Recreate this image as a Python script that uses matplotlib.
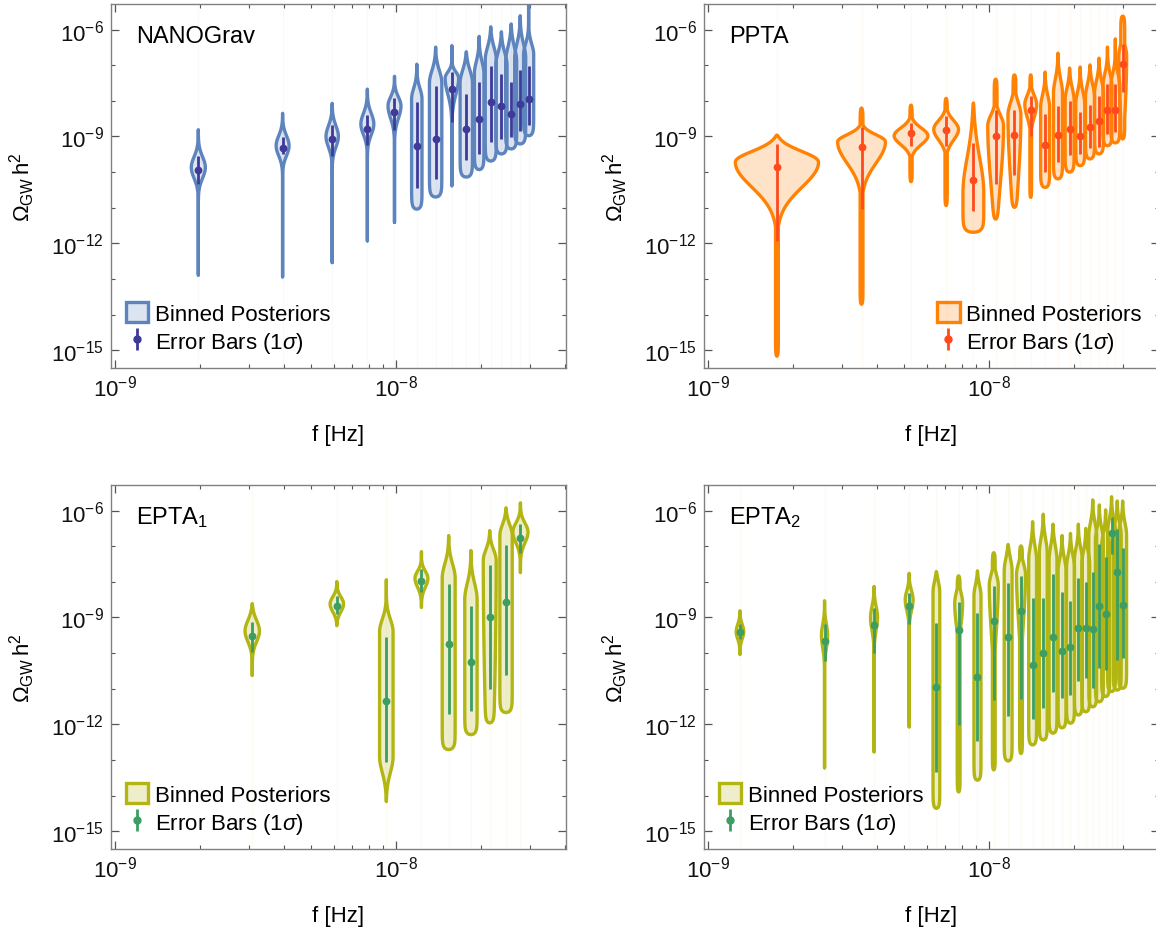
import numpy as np
import matplotlib.pyplot as plt
from matplotlib.patches import Patch
from matplotlib.lines import Line2D
from matplotlib.legend_handler import HandlerTuple
from matplotlib.ticker import FixedLocator, LogFormatterSciNotation, NullFormatter

plt.rcParams['font.family'] = ['Liberation Sans', 'DejaVu Sans']
plt.rcParams['mathtext.fontset'] = 'custom'
plt.rcParams['mathtext.rm'] = 'Liberation Sans'
plt.rcParams['mathtext.it'] = 'Liberation Sans:italic'
plt.rcParams['mathtext.bf'] = 'Liberation Sans:bold'
plt.rcParams['mathtext.sf'] = 'Liberation Sans'

# Все значения Omega -- log10, частоты в нГц
# ширины скрипок (w, tail) -- полуширина в декадах частоты
# pt/pb -- верх/низ плато максимальной ширины, su/sd -- спад вверх/вниз

# NANOGrav
nano_f = [1.98, 3.95, 5.93, 7.91, 9.88, 11.86, 13.84, 15.81, 17.79, 19.77, 21.74, 23.72, 25.70, 27.67, 29.65]
nano_med = [-9.94, -9.32, -9.07, -8.79, -8.30, -9.27, -9.07, -7.67, -8.79, -8.51, -8.04, -8.15, -8.37, -8.09, -7.95]
nano_elo = [-10.32, -9.49, -9.54, -9.23, -8.81, -10.45, -10.20, -8.60, -9.66, -9.49, -9.16, -9.08, -9.02, -8.84, -8.68]
nano_ehi = [-9.54, -9.02, -8.68, -8.40, -7.92, -8.03, -7.58, -7.18, -7.81, -7.47, -7.02, -7.24, -7.48, -7.12, -7.01]
nano_lo = [-12.89, -12.94, -12.54, -11.93, -11.41, -11.04, -10.70, -10.39, -10.14, -9.93, -9.69, -9.49, -9.35, -9.21, -8.98]
nano_hi = [-8.81, -8.35, -8.07, -7.67, -7.31, -6.97, -6.49, -6.45, -6.62, -6.19, -5.92, -6.06, -5.84, -5.61, -5.25]
nano_pt = [-9.87, -9.26, -9.00, -8.65, -8.14, -7.95, -7.50, -7.36, -7.50, -7.25, -6.85, -7.00, -6.90, -6.80, -6.70]
nano_pb = [-9.87, -9.26, -9.00, -8.65, -8.14, -11.04, -10.70, -7.36, -10.14, -9.93, -9.69, -9.49, -9.35, -9.21, -8.98]
nano_w = [0.025, 0.023, 0.022, 0.023, 0.023, 0.0185, 0.022, 0.024, 0.022, 0.017, 0.0196, 0.020, 0.0196, 0.0196, 0.018]
nano_su = [0.30, 0.28, 0.30, 0.30, 0.25, 0.30, 0.35, 0.17, 0.35, 0.35, 0.35, 0.35, 0.40, 0.40, 0.30]
nano_sd = [0.30, 0.28, 0.30, 0.30, 0.35, 1.0, 1.0, 0.45, 1.0, 1.0, 1.0, 1.0, 1.0, 1.0, 1.0]
nano_tail = [0] * 15

# PPTA
ppta_f = [1.76, 3.52, 5.28, 7.04, 8.80, 10.56, 12.32, 14.08, 15.84, 17.60, 19.36, 21.12, 22.88, 24.64, 26.40, 28.16, 29.92]
ppta_med = [-9.87, -9.30, -8.90, -8.82, -10.22, -9.00, -8.96, -8.27, -9.23, -8.96, -8.79, -8.99, -8.73, -8.56, -8.25, -8.25, -6.96]
ppta_elo = [-11.93, -11.04, -9.27, -9.27, -11.10, -10.34, -10.07, -8.98, -9.99, -9.71, -9.52, -9.49, -9.32, -9.30, -8.93, -8.88, -7.75]
ppta_ehi = [-9.21, -8.74, -8.62, -8.43, -9.18, -8.27, -8.27, -7.86, -8.37, -8.14, -8.00, -8.32, -8.12, -7.87, -7.53, -7.53, -6.40]
ppta_lo = [-15.17, -13.71, -10.27, -10.94, -11.69, -11.32, -10.99, -10.71, -10.43, -10.19, -10.00, -9.82, -9.63, -9.49, -9.26, -9.18, -9.07]
ppta_hi = [-8.96, -8.20, -8.12, -7.93, -8.06, -7.39, -7.27, -7.27, -7.19, -6.66, -7.08, -7.05, -6.99, -6.80, -6.49, -6.26, -5.62]
ppta_pt = [-9.72, -9.15, -8.98, -8.80, -10.60, -8.70, -8.40, -8.10, -8.20, -7.80, -8.00, -8.10, -7.90, -7.80, -7.60, -7.60, -6.75]
ppta_pb = [-9.72, -9.15, -8.98, -8.80, -11.69, -8.70, -8.40, -8.10, -10.43, -10.19, -10.00, -9.82, -9.63, -9.49, -9.26, -9.18, -6.75]
ppta_w = [0.148, 0.085, 0.060, 0.044, 0.037, 0.028, 0.023, 0.021, 0.016, 0.016, 0.016, 0.016, 0.016, 0.016, 0.016, 0.016, 0.014]
ppta_su = [0.30, 0.20, 0.22, 0.25, 1.0, 0.30, 0.35, 0.25, 0.35, 0.40, 0.35, 0.35, 0.35, 0.35, 0.35, 0.35, 0.30]
ppta_sd = [0.70, 0.60, 0.25, 0.30, 1.0, 1.6, 1.8, 0.35, 1.0, 1.0, 1.0, 1.0, 1.0, 1.0, 1.0, 1.0, 1.5]
ppta_tail = [0.005, 0.005, 0.004, 0.004, 0, 0.005, 0.005, 0.003, 0, 0, 0, 0, 0, 0, 0, 0, 0.007]

# EPTA (DR2new)
epta1_f = [3.08, 6.16, 9.24, 12.32, 15.40, 18.48, 21.56, 24.64, 27.72]
epta1_med = [-9.51, -8.67, -11.34, -7.97, -9.74, -10.24, -8.98, -8.56, -6.78]
epta1_elo = [-9.96, -8.90, -13.05, -8.28, -11.70, -11.62, -11.00, -10.61, -7.20]
epta1_ehi = [-9.12, -8.39, -9.54, -7.63, -8.05, -8.67, -7.54, -6.96, -6.37]
epta1_lo = [-10.63, -9.23, -14.17, -8.72, -12.71, -12.29, -11.96, -11.67, -7.74]
epta1_hi = [-8.61, -7.99, -7.94, -7.15, -6.70, -7.12, -6.56, -5.92, -5.78]
epta1_pt = [-9.38, -8.62, -9.40, -7.90, -7.90, -8.50, -7.40, -6.70, -6.60]
epta1_pb = [-9.38, -8.62, -12.90, -7.90, -12.71, -12.29, -7.40, -11.67, -6.60]
epta1_w = [0.0256, 0.024, 0.024, 0.023, 0.023, 0.022, 0.023, 0.022, 0.027]
epta1_su = [0.30, 0.20, 0.35, 0.20, 0.40, 0.45, 0.30, 0.30, 0.25]
epta1_sd = [0.30, 0.22, 0.45, 0.25, 1.0, 1.0, 5.0, 1.0, 0.30]
epta1_tail = [0] * 9

# EPTA (DR2full)
epta2_f = [1.30 * k for k in range(1, 24)]
epta2_med = [-9.42, -9.65, -9.20, -8.68, -10.94, -9.35, -10.66, -9.09, -9.54, -8.82, -10.32, -10.01,
             -9.54, -9.93, -9.82, -9.29, -9.29, -9.31, -8.68, -8.91, -6.64, -7.73, -8.65]
epta2_elo = [-9.59, -10.21, -9.99, -9.18, -13.33, -12.02, -12.47, -11.32, -11.76, -11.29, -11.85, -11.53,
             -11.08, -11.25, -11.18, -10.78, -10.71, -10.99, -10.41, -10.48, -7.23, -10.19, -10.15]
epta2_ehi = [-9.18, -9.17, -8.72, -8.32, -9.15, -8.56, -8.86, -8.12, -8.04, -7.84, -8.46, -8.46,
             -7.79, -8.28, -8.54, -7.88, -8.01, -7.71, -6.95, -7.30, -6.17, -6.51, -7.06]
epta2_lo = [-10.04, -13.22, -12.77, -12.07, -14.36, -13.90, -13.57, -13.28, -13.03, -12.82, -12.58, -12.44,
            -12.25, -12.10, -11.97, -11.74, -11.65, -11.51, -11.37, -11.22, -11.08, -11.04, -10.99]
epta2_hi = [-8.81, -8.53, -8.13, -7.76, -7.71, -7.83, -7.69, -7.18, -6.95, -6.99, -6.31, -6.10,
            -6.38, -6.70, -6.64, -6.38, -6.50, -5.70, -5.84, -5.98, -5.61, -5.73, -5.73]
epta2_pt = [-9.40, -9.50, -9.00, -8.50, -8.30, -8.60, -8.40, -8.10, -7.70, -7.80, -7.40, -7.20,
            -7.40, -7.70, -7.60, -7.40, -7.50, -6.70, -6.85, -7.00, -6.60, -6.70, -6.70]
epta2_pb = [-9.40, -9.50, -9.00, -8.50, -14.36, -8.60, -13.57, -8.10, -13.03, -7.80, -12.58, -12.44,
            -12.25, -12.10, -11.97, -11.74, -11.65, -11.51, -11.37, -11.22, -11.08, -11.04, -10.99]
epta2_w = [0.0135, 0.011, 0.0125, 0.014, 0.012, 0.014, 0.0125, 0.016, 0.014, 0.016, 0.014, 0.014,
           0.014, 0.014, 0.014, 0.014, 0.014, 0.014, 0.014, 0.014, 0.014, 0.014, 0.014]
epta2_su = [0.20, 0.30, 0.30, 0.25, 0.30, 0.30, 0.30, 0.30, 0.35, 0.30, 0.40, 0.40,
            0.40, 0.35, 0.35, 0.35, 0.35, 0.35, 0.35, 0.35, 0.35, 0.35, 0.35]
epta2_sd = [0.20, 0.35, 0.35, 0.30, 1.0, 0.60, 1.0, 1.2, 1.0, 1.2] + [1.0] * 13
epta2_tail = [0, 0, 0, 0, 0, 0.005, 0, 0.005, 0, 0.005] + [0] * 13


def violin(ax, f, lo, hi, pt, pb, w, su, sd, tail, edge, face):
    y = np.linspace(lo, hi, 400)
    core = np.ones_like(y)
    up = y > pt
    core[up] = np.exp(-0.5 * ((y[up] - pt) / su) ** 2)
    dn = y < pb
    core[dn] = np.exp(-0.5 * ((pb - y[dn]) / sd) ** 2)
    hw = np.maximum(w * core, tail)
    # скругление концов
    hw = hw * np.sqrt(np.clip(1 - np.exp(-(y - lo) / 0.1), 0, 1)) \
            * np.sqrt(np.clip(1 - np.exp(-(hi - y) / 0.1), 0, 1))
    x0 = np.log10(f)
    xs = np.r_[x0 - hw, (x0 + hw)[::-1]]
    ys = np.r_[y, y[::-1]]
    ax.fill(10 ** xs, 10 ** ys, fc=face, ec=edge, lw=2.4, joinstyle='round', zorder=2)


def panel(ax, name, f, med, elo, ehi, lo, hi, pt, pb, w, su, sd, tail,
          edge, ecol, legloc):
    face = (*plt.matplotlib.colors.to_rgb(edge), 0.22)
    f = np.array(f) * 1e-9
    med, elo, ehi = np.array(med), np.array(elo), np.array(ehi)

    ax.vlines(f, 1e-17, 1e-4, colors=edge, alpha=0.045, lw=1, zorder=1)
    for i in range(len(f)):
        violin(ax, f[i], lo[i], hi[i], pt[i], pb[i], w[i], su[i], sd[i], tail[i], edge, face)

    yerr = [10 ** med - 10 ** elo, 10 ** ehi - 10 ** med]
    ax.errorbar(f, 10 ** med, yerr=yerr, fmt='o', ms=4.6, color=ecol,
                elinewidth=2.0, capsize=0, zorder=4)

    ax.set_xscale('log')
    ax.set_yscale('log')
    ax.set_xlim(10 ** -9.014, 10 ** -7.395)
    ax.set_ylim(10 ** -15.5, 10 ** -5.28)

    ax.xaxis.set_major_locator(FixedLocator([1e-9, 1e-8]))
    ax.xaxis.set_minor_locator(FixedLocator([k * 1e-9 for k in range(2, 10)] + [2e-8, 3e-8, 4e-8]))
    ax.xaxis.set_major_formatter(LogFormatterSciNotation())
    ax.xaxis.set_minor_formatter(NullFormatter())
    ax.yaxis.set_major_locator(FixedLocator([1e-15, 1e-12, 1e-9, 1e-6]))
    ax.yaxis.set_minor_locator(FixedLocator([10.0 ** k for k in range(-16, -4) if k % 3]))
    ax.yaxis.set_major_formatter(LogFormatterSciNotation())
    ax.yaxis.set_minor_formatter(NullFormatter())
    ax.tick_params(which='both', direction='in', top=True, right=True,
                   color='#555555', labelcolor='#111111', labelsize=16, pad=5)
    ax.tick_params(which='major', length=5.5, width=0.9)
    ax.tick_params(which='minor', length=3, width=0.8)
    for s in ax.spines.values():
        s.set_color('#808080')
        s.set_linewidth(1.0)

    ax.set_xlabel('f [Hz]', fontsize=16, labelpad=17)
    ax.set_ylabel(r'$\Omega_{\mathrm{GW}}\,\mathrm{h}^2$', fontsize=16, labelpad=10)
    ax.text(0.055, 0.896, name, transform=ax.transAxes, fontsize=17, va='baseline', ha='left')

    h1 = Patch(fc=face, ec=edge, lw=2.4)
    h2 = (Line2D([], [], ls='none', marker='|', ms=16, mew=2.0, color=ecol),
          Line2D([], [], ls='none', marker='o', ms=5, color=ecol))
    if legloc == 'left':
        kw = dict(loc='lower left', bbox_to_anchor=(0.033, 0.035))
    else:
        kw = dict(loc='lower right', bbox_to_anchor=(0.962, 0.035))
    ax.legend([h1, h2], ['Binned Posteriors', r'Error Bars (1$\sigma$)'],
              handler_map={tuple: HandlerTuple(ndivide=1, pad=0)},
              frameon=False, fontsize=16, handlelength=1.0, handleheight=1.0,
              handletextpad=0.3, labelspacing=0.25, borderpad=0, borderaxespad=0, **kw)


fig = plt.figure(figsize=(11.56, 9.29), dpi=100)
W_ax, H_ax = 455 / 1156, 364 / 929
ax1 = fig.add_axes([111 / 1156, 560 / 929, W_ax, H_ax])
ax2 = fig.add_axes([704 / 1156, 560 / 929, W_ax, H_ax])
ax3 = fig.add_axes([111 / 1156, 79 / 929, W_ax, H_ax])
ax4 = fig.add_axes([704 / 1156, 79 / 929, W_ax, H_ax])

blue, indigo = '#5E84BE', '#3D3A9A'
orange, red = '#FF8205', '#FF4A1C'
olive, green = '#B3B512', '#3C9E62'

panel(ax1, 'NANOGrav', nano_f, nano_med, nano_elo, nano_ehi, nano_lo, nano_hi, nano_pt, nano_pb,
      nano_w, nano_su, nano_sd, nano_tail, blue, indigo, 'left')
panel(ax2, 'PPTA', ppta_f, ppta_med, ppta_elo, ppta_ehi, ppta_lo, ppta_hi, ppta_pt, ppta_pb,
      ppta_w, ppta_su, ppta_sd, ppta_tail, orange, red, 'right')
panel(ax3, r'EPTA$_1$', epta1_f, epta1_med, epta1_elo, epta1_ehi, epta1_lo, epta1_hi, epta1_pt,
      epta1_pb, epta1_w, epta1_su, epta1_sd, epta1_tail, olive, green, 'left')
panel(ax4, r'EPTA$_2$', epta2_f, epta2_med, epta2_elo, epta2_ehi, epta2_lo, epta2_hi, epta2_pt,
      epta2_pb, epta2_w, epta2_su, epta2_sd, epta2_tail, olive, green, 'left')

fig.savefig('out.png', dpi=100)
